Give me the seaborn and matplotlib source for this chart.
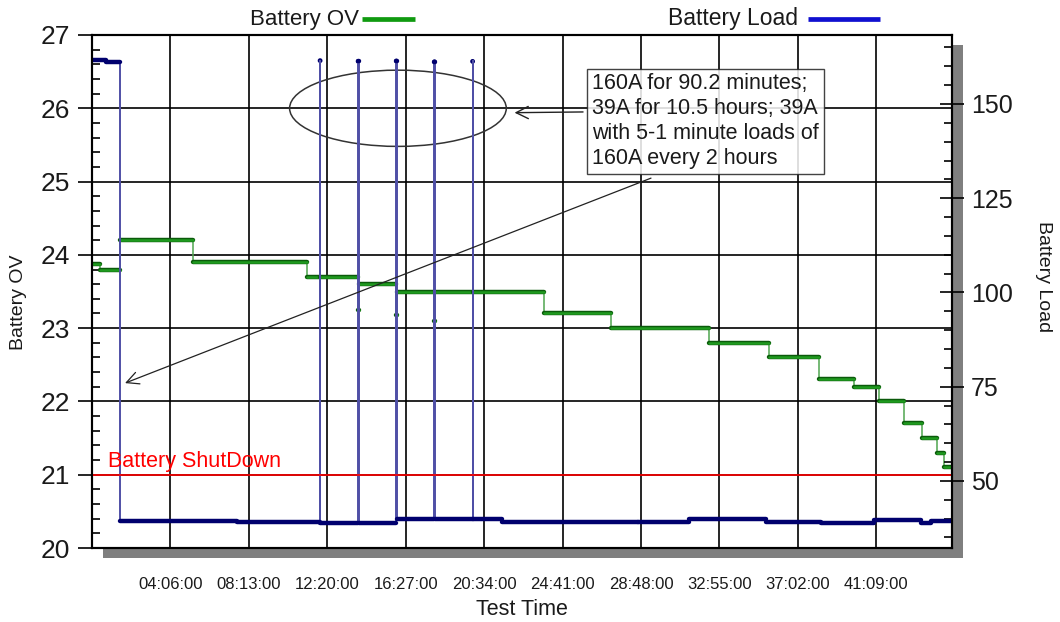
import numpy as np
import pandas as pd
import matplotlib
matplotlib.use("Agg")
import matplotlib.pyplot as plt
import seaborn as sns
import matplotlib.patheffects as pe
import matplotlib.transforms as mtransforms
from matplotlib.patches import Ellipse, Rectangle
from matplotlib.lines import Line2D
from matplotlib.ticker import MultipleLocator

# ---------------- data (time in minutes from test start) ----------------
volt_step_min = [0, 25, 88, 317, 676, 836, 959, 1424, 1634, 1942, 2131, 2288,
                 2398, 2477, 2555, 2612, 2659, 2681, 2707]
volt_step_v = [23.87, 23.80, 24.20, 23.90, 23.70, 23.60, 23.50, 23.20, 23.00,
               22.80, 22.60, 22.30, 22.20, 22.00, 21.70, 21.50, 21.30, 21.10, 21.10]

load_step_min = [0, 45, 88, 455, 717, 838, 958, 1290, 1720, 1880, 2120, 2295,
                 2460, 2610, 2640, 2707]
load_step_a = [161.7, 161.2, 39.3, 39.0, 38.9, 38.7, 39.8, 39.2, 39.0, 39.8,
               39.2, 38.7, 39.5, 38.9, 39.4, 39.4]

pulse_min = [718, 838, 958, 1078, 1198]
pulse_load_a = [161.5, 161.3, 161.4, 161.2, 161.3]
pulse_volt_v = [23.25, 23.25, 23.18, 23.10, 23.00]
pulse_len_min = 1

xtick_min = [246, 493, 740, 987, 1234, 1481, 1728, 1975, 2222, 2469]
xtick_labels = ["04:06:00", "08:13:00", "12:20:00", "16:27:00", "20:34:00",
                "24:41:00", "28:48:00", "32:55:00", "37:02:00", "41:09:00"]
volt_ticks = [20, 21, 22, 23, 24, 25, 26, 27]
load_ticks = [50, 75, 100, 125, 150]
shutdown_v = 21.0
note_text = ("160A for 90.2 minutes;\n39A for 10.5 hours; 39A\n"
             "with 5-1 minute loads of\n160A every 2 hours")


# ---------------- build series from the arrays ----------------
def series_with_pulses(step_t, step_v, p_t, p_v, p_len):
    step_t = np.asarray(step_t, float)
    step_v = np.asarray(step_v, float)
    pts = dict(zip(step_t, step_v))
    for t, v in zip(p_t, p_v):
        after = step_v[np.searchsorted(step_t, t + p_len, side="right") - 1]
        pts[float(t)] = v
        pts[float(t + p_len)] = after
    ts = np.array(sorted(pts))
    return ts, np.array([pts[t] for t in ts])


def split_runs(t, v):
    rows, seg = [], 0
    for i in range(len(t)):
        if i > 0 and abs(v[i] - v[i - 1]) > 1e-9:
            rows.append((t[i], v[i - 1], seg))
            seg += 1
        rows.append((t[i], v[i], seg))
    return pd.DataFrame(rows, columns=["t", "val", "seg"])


vt, vv = series_with_pulses(volt_step_min, volt_step_v, pulse_min, pulse_volt_v, pulse_len_min)
lt, lv = series_with_pulses(load_step_min, load_step_a, pulse_min, pulse_load_a, pulse_len_min)
volt_full = pd.DataFrame({"t": vt, "val": vv})
load_full = pd.DataFrame({"t": lt, "val": lv})
volt_runs = split_runs(vt, vv)
load_runs = split_runs(lt, lv)
pulse_tops = pd.DataFrame({"t": pulse_min, "val": pulse_load_a})

# ---------------- style ----------------
sns.set_style("white")
plt.rcParams["font.family"] = ["Liberation Sans", "DejaVu Sans"]
txt_color = "#1a1a1a"
plt.rcParams["text.color"] = txt_color
plt.rcParams["xtick.color"] = "black"
plt.rcParams["ytick.color"] = "black"
plt.rcParams["xtick.labelcolor"] = txt_color
plt.rcParams["ytick.labelcolor"] = txt_color
plt.rcParams["path.simplify"] = False

W, H = 1060, 622
fig = plt.figure(figsize=(W / 100, H / 100), dpi=100)
L, R, T, B = 92, 952, 35, 548
ax = fig.add_axes([L / W, 1 - B / H, (R - L) / W, (B - T) / H])
ax2 = ax.twinx()

# drop shadow behind plot area
fig.add_artist(Rectangle(((L + 11) / W, 1 - (B + 10) / H), (R - L) / W, (B - T) / H,
                         transform=fig.transFigure, facecolor="#7f7f7f",
                         edgecolor="none", zorder=-1))

green = "#1f9a1f"
green_dark = "#0b5a0b"
navy = "#00006e"

# voltage (left axis)
sns.lineplot(data=volt_full, x="t", y="val", ax=ax, estimator=None, sort=True,
             drawstyle="steps-post", color="#4fa54f", lw=1.1)
sns.lineplot(data=volt_runs, x="t", y="val", units="seg", ax=ax, estimator=None,
             sort=True, drawstyle="steps-post", color=green, lw=1.8,
             path_effects=[pe.Stroke(linewidth=3.2, foreground=green_dark), pe.Normal()])

# load (right axis)
sns.lineplot(data=load_full, x="t", y="val", ax=ax2, estimator=None, sort=True,
             drawstyle="steps-post", color="#4f4fa6", lw=1.4)
sns.lineplot(data=load_runs, x="t", y="val", units="seg", ax=ax2, estimator=None,
             sort=True, drawstyle="steps-post", color=navy, lw=3.2)
sns.scatterplot(data=pulse_tops, x="t", y="val", ax=ax2, color=navy, s=12,
                marker="o", edgecolor="none", legend=False)

ax.set_xlim(0, 2707)
ax.set_ylim(20, 27)
ax2.set_ylim(32.2, 168.3)

# grid
ax.grid(True, which="major", color="black", lw=1.2)
ax.set_axisbelow("line")
ax2.grid(False)

# ticks
ax.set_xticks(xtick_min, labels=xtick_labels)
ax.set_yticks(volt_ticks)
ax.yaxis.set_minor_locator(MultipleLocator(0.2))
ax.tick_params(axis="x", which="major", direction="out", length=11, width=1.2,
               pad=10, labelsize=12, top=False)
ax.tick_params(axis="y", which="major", direction="out", length=10, width=1.2,
               pad=6, labelsize=19, right=False)
ax.tick_params(axis="y", which="minor", direction="in", length=6, width=1.2, left=True, right=False)
ax2.set_yticks(load_ticks)
ax2.yaxis.set_minor_locator(MultipleLocator(5))
ax2.tick_params(axis="y", which="major", direction="inout", length=17, width=1.2,
                pad=5, labelsize=18)
ax2.tick_params(axis="y", which="minor", direction="in", length=6, width=1.2)

for a in (ax, ax2):
    for s in a.spines.values():
        s.set_color("black")
        s.set_linewidth(1.5)

# labels
ax.set_xlabel("Test Time", fontsize=15.5, color=txt_color)
ax.xaxis.set_label_coords(0.5, -0.1)
ax.set_ylabel("Battery OV", fontsize=14, color=txt_color)
ax.yaxis.set_label_coords(-0.075, 0.48)
ax2.set_ylabel("Battery Load", fontsize=14, color=txt_color, rotation=270, va="bottom")
ax2.yaxis.set_label_coords(1.097, 0.53)

# header legend
fig.text(250 / W, 1 - 19 / H, "Battery OV", fontsize=16, ha="left", va="center")
fig.add_artist(Line2D([362 / W, 415 / W], [1 - 19 / H] * 2, transform=fig.transFigure,
                      color="#109a10", lw=3.4, solid_capstyle="butt"))
fig.text(668 / W, 1 - 19 / H, "Battery Load", fontsize=16.5, ha="left", va="center")
fig.add_artist(Line2D([808 / W, 880 / W], [1 - 19 / H] * 2, transform=fig.transFigure,
                      color="#1010d0", lw=3.4, solid_capstyle="butt"))

# shutdown line (drawn on top axes, in voltage coordinates)
blend = mtransforms.blended_transform_factory(ax2.transAxes, ax.transData)
ax2.add_line(Line2D([0, 1], [shutdown_v, shutdown_v], transform=blend, color="red", lw=1.2))
ax2.text(0.019, shutdown_v + 0.04, "Battery ShutDown", transform=blend, color="red",
         fontsize=15.5, ha="left", va="bottom")

# ellipse around the pulses
ax2.add_patch(Ellipse((963, 26.0), 682, 1.04, transform=ax.transData, fill=False,
                      edgecolor="#333333", lw=1.1))

# note box and arrows
ax2.text(0.5815, 0.925, note_text, transform=ax2.transAxes, fontsize=15.5,
         ha="left", va="top", linespacing=1.25,
         bbox=dict(boxstyle="square,pad=0.22", facecolor="white", alpha=0.85,
                   edgecolor="#222222", lw=1.0))
ax2.annotate("", xy=(1330, 25.94), xycoords=ax.transData,
             xytext=(0.571, 0.850), textcoords=ax2.transAxes,
             arrowprops=dict(arrowstyle="->", color="#222222", lw=1.0, mutation_scale=22,
                             shrinkA=0, shrinkB=0))
ax2.annotate("", xy=(104, 22.25), xycoords=ax.transData,
             xytext=(0.650, 0.721), textcoords=ax2.transAxes,
             arrowprops=dict(arrowstyle="->", color="#222222", lw=0.9, mutation_scale=22,
                             shrinkA=0, shrinkB=0))

fig.savefig("out.png", dpi=100)
